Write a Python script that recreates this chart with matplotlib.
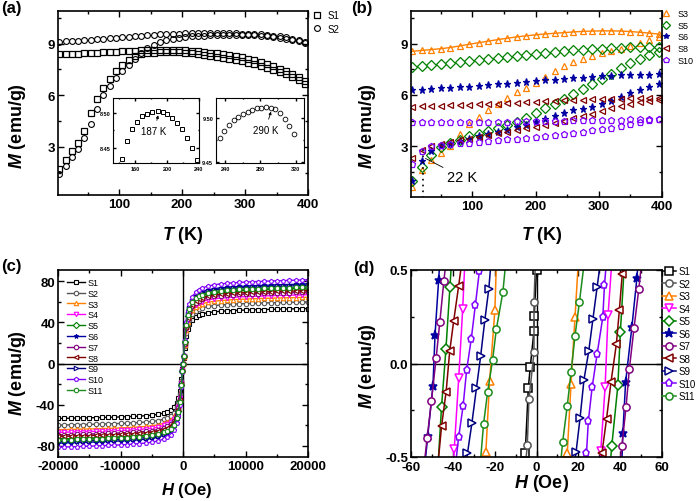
import matplotlib
matplotlib.use('Agg')
import matplotlib.pyplot as plt
from matplotlib.ticker import MultipleLocator, FormatStrFormatter
import numpy as np

plt.rcParams['font.family'] = ['Liberation Sans', 'DejaVu Sans']
plt.rcParams['font.weight'] = 'bold'
plt.rcParams['mathtext.fontset'] = 'custom'
plt.rcParams['mathtext.it'] = 'Liberation Sans:italic:bold'
plt.rcParams['mathtext.rm'] = 'Liberation Sans:bold'
plt.rcParams['axes.unicode_minus'] = False
plt.rcParams['axes.linewidth'] = 1.2

# ---------------- (a) ZFC/FC of S1, S2 ----------------
T_a = np.arange(5, 400, 10)
S1_zfc = [1.7, 2.25, 2.75, 3.25, 3.95, 4.95, 5.8, 6.45, 6.95, 7.42,
          7.78, 8.05, 8.26, 8.38, 8.44, 8.47, 8.49, 8.5, 8.5, 8.49,
          8.47, 8.44, 8.4, 8.35, 8.3, 8.24, 8.18, 8.12, 8.05, 7.98,
          7.9, 7.82, 7.72, 7.61, 7.49, 7.36, 7.22, 7.06, 6.88, 6.65]
S1_fc = [8.38, 8.39, 8.41, 8.42, 8.44, 8.46, 8.48, 8.5, 8.52, 8.54,
         8.56, 8.58, 8.6, 8.61, 8.62, 8.63, 8.63, 8.63, 8.63, 8.62,
         8.61, 8.6, 8.57, 8.53, 8.48, 8.43, 8.39, 8.35, 8.28, 8.2,
         8.12, 8.03, 7.94, 7.83, 7.7, 7.55, 7.39, 7.22, 7.04, 6.82]
S2_zfc = [1.45, 1.9, 2.4, 2.9, 3.5, 4.3, 5.2, 6.0, 6.55, 7.0,
          7.4, 7.75, 8.1, 8.45, 8.75, 8.95, 9.1, 9.2, 9.28, 9.34,
          9.38, 9.42, 9.45, 9.47, 9.48, 9.49, 9.5, 9.51, 9.51, 9.51,
          9.5, 9.48, 9.46, 9.43, 9.39, 9.35, 9.29, 9.22, 9.14, 9.06]
S2_fc = [9.12, 9.14, 9.16, 9.18, 9.2, 9.23, 9.26, 9.29, 9.32, 9.35,
         9.38, 9.41, 9.44, 9.47, 9.5, 9.52, 9.54, 9.56, 9.58, 9.59,
         9.6, 9.61, 9.62, 9.62, 9.62, 9.62, 9.62, 9.61, 9.6, 9.59,
         9.58, 9.56, 9.54, 9.51, 9.47, 9.42, 9.36, 9.29, 9.21, 9.12]

# insets (peak of ZFC)
in1_T = [144.4, 150.3, 156.6, 163.0, 169.3, 175.6, 181.9, 188.3, 194.6, 200.5,
         206.4, 212.3, 218.6, 225.0, 230.9, 237.3]
in1_M = [8.434, 8.460, 8.477, 8.4875, 8.495, 8.4986, 8.501, 8.503, 8.501, 8.4986,
         8.493, 8.486, 8.477, 8.464, 8.450, 8.433]
in2_T = [233.7, 238.6, 244.2, 249.5, 254.7, 260.0, 265.3, 270.5, 275.8, 281.0,
         286.3, 291.6, 296.8, 302.1, 307.4, 312.6, 317.9]
in2_M = [9.477, 9.4853, 9.4925, 9.4974, 9.5015, 9.5045, 9.5075, 9.5094, 9.5113, 9.512,
         9.5124, 9.5117, 9.511, 9.506, 9.4989, 9.4914, 9.482]

# ---------------- (b) ZFC/FC of S3, S5, S6, S8, S10 ----------------
T_b = np.arange(5, 400, 15)
b_names = ['S3', 'S5', 'S6', 'S8', 'S10']
b_fc = [
    [8.55, 8.6, 8.65, 8.7, 8.77, 8.86, 8.96, 9.05, 9.14, 9.23, 9.31, 9.39, 9.45, 9.51,
     9.56, 9.6, 9.64, 9.68, 9.71, 9.73, 9.74, 9.74, 9.73, 9.7, 9.66, 9.61, 9.55],
    [7.65, 7.7, 7.75, 7.8, 7.87, 7.93, 7.99, 8.05, 8.11, 8.17, 8.23, 8.29, 8.35, 8.41,
     8.46, 8.51, 8.56, 8.6, 8.64, 8.68, 8.71, 8.74, 8.76, 8.78, 8.8, 8.81, 8.82],
    [6.3, 6.32, 6.35, 6.38, 6.41, 6.45, 6.49, 6.53, 6.57, 6.62, 6.67, 6.72, 6.77, 6.82,
     6.86, 6.9, 6.94, 6.98, 7.02, 7.06, 7.09, 7.12, 7.14, 7.16, 7.18, 7.19, 7.2],
    [5.32, 5.34, 5.36, 5.38, 5.4, 5.42, 5.44, 5.46, 5.48, 5.5, 5.52, 5.55, 5.58, 5.61,
     5.64, 5.66, 5.68, 5.7, 5.72, 5.74, 5.76, 5.78, 5.79, 5.8, 5.81, 5.82, 5.82],
    [4.4, 4.4, 4.4, 4.41, 4.41, 4.42, 4.42, 4.43, 4.43, 4.44, 4.45, 4.46, 4.47, 4.48,
     4.49, 4.5, 4.51, 4.52, 4.53, 4.54, 4.55, 4.56, 4.57, 4.58, 4.59, 4.6, 4.6],
]
b_zfc = [
    [0.65, 1.6, 2.2, 2.6, 3.05, 3.7, 4.3, 4.7, 5.1, 5.5, 5.85, 6.15, 6.4, 6.7,
     7.05, 7.4, 7.7, 7.95, 8.1, 8.3, 8.45, 8.58, 8.7, 8.88, 9.05, 9.2, 9.37],
    [1.0, 1.8, 2.5, 2.95, 3.2, 3.4, 3.6, 3.75, 3.9, 4.08, 4.25, 4.42, 4.65, 4.95,
     5.25, 5.5, 5.75, 6.05, 6.35, 6.65, 6.92, 7.25, 7.55, 7.85, 8.1, 8.35, 8.5],
    [1.0, 2.15, 2.75, 3.0, 3.15, 3.3, 3.45, 3.6, 3.72, 3.85, 3.98, 4.12, 4.27, 4.42,
     4.6, 4.78, 4.95, 5.1, 5.2, 5.3, 5.45, 5.65, 5.88, 6.1, 6.3, 6.47, 6.65],
    [2.3, 2.8, 3.0, 3.12, 3.24, 3.35, 3.46, 3.57, 3.67, 3.77, 3.86, 3.95, 4.05, 4.15,
     4.25, 4.37, 4.5, 4.63, 4.77, 4.92, 5.07, 5.22, 5.36, 5.48, 5.58, 5.65, 5.7],
    [1.95, 2.75, 3.0, 3.08, 3.14, 3.18, 3.22, 3.27, 3.32, 3.37, 3.42, 3.46, 3.5, 3.55,
     3.6, 3.65, 3.72, 3.79, 3.86, 3.94, 4.02, 4.1, 4.18, 4.28, 4.4, 4.52, 4.6],
]

# ---------------- (c) M-H loops ----------------
names = ['S1', 'S2', 'S3', 'S4', 'S5', 'S6', 'S7', 'S8', 'S9', 'S10', 'S11']
colors = ['#000000', '#555555', '#FF8000', '#FF00FF', '#008000', '#0000A0',
          '#800080', '#800000', '#000080', '#8000FF', '#1C8C1C']
markers = ['s', 'o', '^', 'v', 'D', '*', 'o', '<', '>', 'p', 'o']
Ms = [53.5, 60, 64.5, 67, 73.5, 77.5, 69.5, 71, 76, 81.5, 74.5]
H_pos = [0, 100, 250, 500, 750, 1000, 1500, 2000, 2500, 3000, 4000, 5000, 6000, 7000,
         8000, 9000, 10000, 11000, 12000, 13000, 14000, 15000, 16000, 17000, 18000,
         19000, 20000]
m_shape = [0, 0.1, 0.28, 0.5, 0.63, 0.71, 0.8, 0.85, 0.88, 0.9, 0.925, 0.94, 0.95, 0.957,
           0.963, 0.968, 0.972, 0.976, 0.979, 0.982, 0.985, 0.988, 0.99, 0.992, 0.995,
           0.997, 1.0]

# ---------------- (d) low-field zoom ----------------
dn_H = [[-6.4, -5.4, -3.9, -3.0, -1.2, -1.1, 0.0, 0.5],
        [-5.9, -4.4, -3.6, -1.2, -1.2, -0.3],
        [-19.0, -19.9, -22.4, -24.2, -24.8],
        [-34.0, -35.3, -37.2, -39.3, -40.1],
        [-40.2, -41.4, -43.3, -45.4, -47.5],
        [-45.8, -46.8, -48.5, -49.5, -52.0, -54.1],
        [-42.5, -44.3, -46.2, -48.0, -50.2, -52.3, -54.5],
        [-34.8, -37.2, -39.6, -41.5, -43.2, -45.4, -47.8],
        [-21.3, -22.8, -24.7, -26.7, -28.7, -30.9, -33.0, -34.5],
        [-26.0, -27.3, -29.2, -31.2, -33.4, -35.1, -37.2, -39.3],
        [-14.0, -16.1, -19.2, -21.0, -23.4, -25.3, -27.5]]
dn_M = [[-0.62, -0.48, -0.13, -0.02, 0.175, 0.255, 0.5, 0.6],
        [-0.62, -0.436, -0.19, 0.059, 0.327, 0.62],
        [0.6, 0.285, -0.093, -0.471, -0.62],
        [0.6, 0.29, -0.08, -0.455, -0.6],
        [0.62, 0.407, 0.077, -0.232, -0.62],
        [0.62, 0.445, 0.155, -0.118, -0.389, -0.62],
        [0.62, 0.44, 0.224, 0.027, -0.198, -0.4, -0.62],
        [0.62, 0.416, 0.227, 0.065, -0.15, -0.336, -0.62],
        [0.6, 0.40, 0.232, 0.04, -0.131, -0.32, -0.48, -0.62],
        [0.62, 0.495, 0.315, 0.13, -0.035, -0.228, -0.392, -0.6],
        [0.62, 0.38, 0.183, 0.018, -0.155, -0.322, -0.62]]
up_H = [[], [],
        [14.0, 14.7, 16.5, 18.4, 20.3],
        [30.0, 30.7, 32.8, 34.2, 36.5],
        [34.6, 36.0, 38.9, 40.1, 42.5],
        [40.5, 41.3, 42.6, 45.6, 48.0, 49.1],
        [39.0, 40.8, 42.8, 44.4, 46.6, 48.9, 51.0],
        [30.0, 31.3, 33.5, 35.6, 38.2, 39.6, 41.0, 42.0],
        [17.3, 18.9, 20.8, 22.7, 25.0, 27.0, 29.0, 31.5],
        [22.8, 23.9, 24.8, 26.6, 29.0, 31.7, 32.5, 34.0],
        [10.8, 12.5, 14.7, 16.5, 18.4, 20.5, 23.7]]
up_M = [[], [],
        [-0.62, -0.48, -0.11, 0.246, 0.6],
        [-0.62, -0.47, -0.126, 0.259, 0.62],
        [-0.62, -0.44, -0.117, 0.17, 0.62],
        [-0.62, -0.37, -0.1, 0.195, 0.457, 0.62],
        [-0.62, -0.443, -0.234, -0.028, 0.1875, 0.397, 0.62],
        [-0.62, -0.478, -0.295, -0.1, 0.105, 0.284, 0.478, 0.62],
        [-0.62, -0.475, -0.294, -0.087, 0.068, 0.24, 0.41, 0.62],
        [-0.62, -0.478, -0.307, -0.127, 0.052, 0.248, 0.42, 0.62],
        [-0.62, -0.42, -0.227, -0.048, 0.147, 0.327, 0.62]]

W, Hh = 700.0, 502.0


def fx(x, y):
    return (x / W, 1 - y / Hh)


def box(l, t, r, b):
    return [l / W, 1 - b / Hh, (r - l) / W, (b - t) / Hh]


def style(ax, size=9.5, major=4, minor=2):
    ax.tick_params(which='both', direction='in', top=True, right=True, width=1,
                   labelsize=size, pad=2)
    ax.tick_params(which='major', length=major)
    ax.tick_params(which='minor', length=minor)


fig = plt.figure(figsize=(7, 5.02), dpi=100)
ax_a = fig.add_axes(box(58, 12, 308, 196))
ax_b = fig.add_axes(box(411, 12, 662, 198))
ax_c = fig.add_axes(box(58, 271, 308, 458))
ax_d = fig.add_axes(box(411, 271, 662, 458))

# ---- (a)
ax_a.plot(T_a, S1_zfc, 's', mfc='none', mec='k', ms=3.8, mew=0.9, label='S1')
ax_a.plot(T_a, S1_fc, 's', mfc='none', mec='k', ms=3.8, mew=0.9)
ax_a.plot(T_a, S2_zfc, 'o', mfc='none', mec='k', ms=4.2, mew=0.8, label='S2')
ax_a.plot(T_a, S2_fc, 'o', mfc='none', mec='k', ms=4.2, mew=0.8)
ax_a.set_xlim(3, 400)
ax_a.set_ylim(0.2, 10.9)
ax_a.xaxis.set_major_locator(MultipleLocator(100))
ax_a.xaxis.set_minor_locator(MultipleLocator(50))
ax_a.yaxis.set_major_locator(MultipleLocator(3))
ax_a.yaxis.set_minor_locator(MultipleLocator(1.5))
style(ax_a)
ax_a.legend(loc='upper left', bbox_to_anchor=fx(312, 11), bbox_transform=fig.transFigure,
            frameon=False, borderpad=0, borderaxespad=0, handlelength=1.0,
            handletextpad=0.6, labelspacing=0.4, prop={'size': 7, 'weight': 'normal'})

in1 = fig.add_axes(box(113, 99, 199, 164))
in1.plot(in1_T, in1_M, 's', mfc='none', mec='k', ms=3.0, mew=0.7)
in1.set_xlim(132.6, 240)
in1.set_ylim(8.429, 8.521)
in1.set_xticks([160, 200, 240])
in1.set_yticks([8.45, 8.50])
in1.xaxis.set_minor_locator(MultipleLocator(20))
in1.yaxis.set_minor_locator(MultipleLocator(0.025))
in1.yaxis.set_major_formatter(FormatStrFormatter('%.2f'))
style(in1, size=4, major=2, minor=1)
in1.annotate('187 K', xy=(189, 8.4965), xytext=(184, 8.4745), ha='center', va='center',
             fontsize=7, fontweight='normal',
             arrowprops=dict(arrowstyle='-|>', lw=0.6, color='k', mutation_scale=4,
                             shrinkA=2, shrinkB=0))
for s in in1.spines.values():
    s.set_linewidth(0.8)

in2 = fig.add_axes(box(216, 99, 304, 164))
in2.plot(in2_T, in2_M, 'o', mfc='none', mec='k', ms=3.4, mew=0.6)
in2.set_xlim(229.5, 329.5)
in2.set_ylim(9.449, 9.523)
in2.set_xticks([240, 280, 320])
in2.set_yticks([9.45, 9.50])
in2.xaxis.set_minor_locator(MultipleLocator(20))
in2.yaxis.set_minor_locator(MultipleLocator(0.025))
in2.yaxis.set_major_formatter(FormatStrFormatter('%.2f'))
style(in2, size=4, major=2, minor=1)
in2.annotate('290 K', xy=(292, 9.5075), xytext=(285.6, 9.487), ha='center', va='center',
             fontsize=7, fontweight='normal',
             arrowprops=dict(arrowstyle='-|>', lw=0.6, color='k', mutation_scale=4,
                             shrinkA=2, shrinkB=0))
for s in in2.spines.values():
    s.set_linewidth(0.8)

# ---- (b)
b_idx = [2, 4, 5, 7, 9]
for k, i in enumerate(b_idx):
    c = colors[i]
    fill = c if markers[i] == '*' else 'none'
    ms = 5.2 if markers[i] == '*' else 4.6
    ax_b.plot(T_b, b_fc[k], marker=markers[i], color=c, mfc=fill, mec=c, ms=ms,
              mew=0.9, ls='none', label=b_names[k])
    ax_b.plot(T_b, b_zfc[k], marker=markers[i], color=c, mfc=fill, mec=c, ms=ms,
              mew=0.9, ls='none')
# thin guide line under the S3 cooling curve
ax_b.plot(T_b, b_fc[0], color=colors[2], lw=1.0, zorder=1)
ax_b.plot([22, 22], [0, 3.05], color='k', lw=1.2, ls=(0, (1, 2.5)))
ax_b.annotate('22 K', xy=(26, 2.3), xytext=(60, 1.2), ha='left', va='center',
              fontsize=10.5, fontweight='normal',
              arrowprops=dict(arrowstyle='-', lw=0.6, color='k', shrinkA=1, shrinkB=0))
ax_b.set_xlim(3, 400)
ax_b.set_ylim(0.05, 10.9)
ax_b.xaxis.set_major_locator(MultipleLocator(100))
ax_b.xaxis.set_minor_locator(MultipleLocator(50))
ax_b.yaxis.set_major_locator(MultipleLocator(3))
ax_b.yaxis.set_minor_locator(MultipleLocator(1.5))
style(ax_b)
ax_b.legend(loc='upper left', bbox_to_anchor=fx(661, 10), bbox_transform=fig.transFigure,
            frameon=False, borderpad=0, borderaxespad=0, handlelength=1.2,
            handletextpad=0.6, labelspacing=0.3, markerscale=0.85,
            prop={'size': 6.5, 'weight': 'normal'})

# ---- (c)
H_full = [-h for h in H_pos[::-1]] + H_pos[1:]
m_full = [-m for m in m_shape[::-1]] + m_shape[1:]
for i in range(11):
    c = colors[i]
    fill = c if markers[i] == '*' else 'white'
    ax_c.plot(H_full, Ms[i] * np.array(m_full), marker=markers[i], color=c, mfc=fill,
              mec=c, ms=3.2, mew=0.8, lw=1.0, label=names[i])
ax_c.axhline(0, color='k', lw=1.0, zorder=0)
ax_c.axvline(0, color='k', lw=1.0, zorder=0)
ax_c.set_xlim(-20000, 20000)
ax_c.set_ylim(-91, 91)
ax_c.xaxis.set_major_locator(MultipleLocator(10000))
ax_c.xaxis.set_minor_locator(MultipleLocator(5000))
ax_c.yaxis.set_major_locator(MultipleLocator(40))
ax_c.yaxis.set_minor_locator(MultipleLocator(20))
style(ax_c)
ax_c.legend(loc='upper left', bbox_to_anchor=fx(67, 279), bbox_transform=fig.transFigure,
            frameon=False, borderpad=0, borderaxespad=0, handlelength=2.0,
            handletextpad=0.3, labelspacing=0.2, prop={'size': 6.5, 'weight': 'normal'})

# ---- (d)
for i in range(11):
    c = colors[i]
    fill = c if markers[i] == '*' else 'white'
    ms = 6.5 if markers[i] == '*' else 5.2
    ax_d.plot(dn_H[i], dn_M[i], marker=markers[i], color=c, mfc=fill, mec=c, ms=ms,
              mew=1.1, lw=1.1, label=names[i])
    if up_H[i]:
        ax_d.plot(up_H[i], up_M[i], marker=markers[i], color=c, mfc=fill, mec=c, ms=ms,
                  mew=1.1, lw=1.1)
ax_d.axhline(0, color='k', lw=1.0, zorder=0)
ax_d.axvline(0, color='k', lw=1.0, zorder=0)
ax_d.set_xlim(-60, 60)
ax_d.set_ylim(-0.5, 0.5)
ax_d.xaxis.set_major_locator(MultipleLocator(20))
ax_d.xaxis.set_minor_locator(MultipleLocator(10))
ax_d.set_yticks([-0.5, 0.0, 0.5])
ax_d.yaxis.set_minor_locator(MultipleLocator(0.25))
ax_d.yaxis.set_major_formatter(FormatStrFormatter('%.1f'))
style(ax_d)
ax_d.tick_params(axis='x', pad=3)
ax_d.legend(loc='upper left', bbox_to_anchor=fx(662, 267), bbox_transform=fig.transFigure,
            frameon=False, borderpad=0, borderaxespad=0, handlelength=1.4,
            handletextpad=0.3, labelspacing=0.26, prop={'size': 7, 'weight': 'normal'})

# ---- axis labels and panel tags
lab = dict(fontsize=13, fontweight='bold', ha='center', va='center')
fig.text(*fx(183, 236), r'$T$ (K)', **lab)
fig.text(*fx(542, 236), r'$T$ (K)', **lab)
fig.text(*fx(187, 491), r'$H$ (Oe)', fontsize=12, fontweight='bold',
         ha='center', va='center')
fig.text(*fx(542, 484), r'$H$ (Oe)', **lab)
fig.text(*fx(18, 126), r'$M$ (emu/g)', rotation=90, **lab)
fig.text(*fx(368, 126), r'$M$ (emu/g)', rotation=90, **lab)
fig.text(*fx(18, 373), r'$M$ (emu/g)', rotation=90, **lab)
fig.text(*fx(368, 366), r'$M$ (emu/g)', rotation=90, **lab)

tag = dict(fontsize=12, fontweight='bold', ha='center', va='center')
fig.text(*fx(11, 8), '(a)', **tag)
fig.text(*fx(362, 8), '(b)', **tag)
fig.text(*fx(11, 267), '(c)', **tag)
fig.text(*fx(364, 269), '(d)', **tag)

fig.savefig('out.png', dpi=100)
